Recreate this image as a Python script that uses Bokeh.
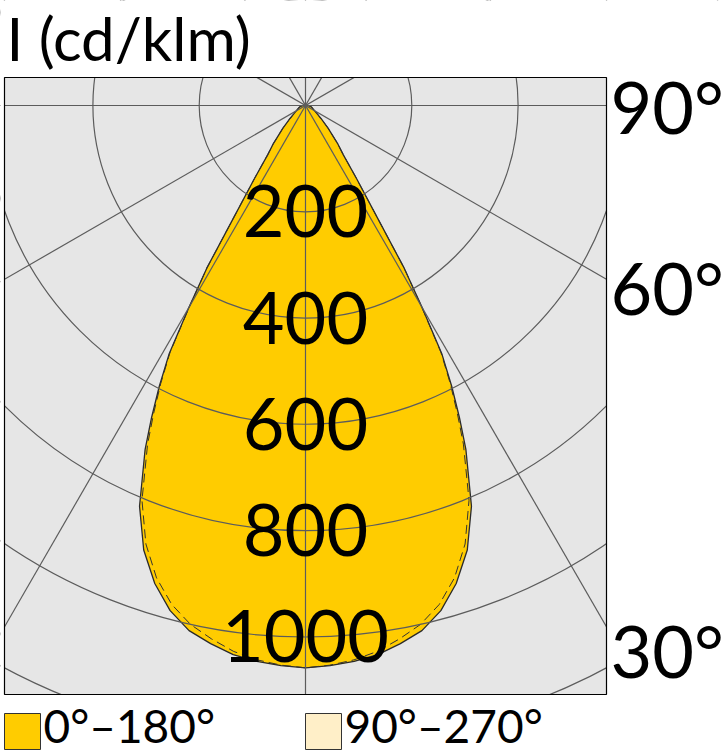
import numpy as np
from bokeh.plotting import figure
from bokeh.models import Range1d
from bokeh.core.properties import value
from bokeh.embed import file_html
from bokeh.resources import INLINE

# ---------------- data ----------------
theta_deg = [0, 2.5, 5, 7.5, 10, 12.5, 15, 17.5, 20, 22.5, 25, 26.25, 27.5, 28.75, 30,
             31.25, 32.5, 35, 37.5, 40, 45, 50, 55, 60, 70, 80, 90]
i_c0_180 = [1058, 1055, 1050, 1042, 1028, 1012, 984, 943, 890, 816, 714, 655, 596, 534, 438,
            358, 258, 166, 117, 95, 60, 38, 26, 20, 14, 10, 5]
i_c90_270 = [1058, 1054, 1047, 1036, 1019, 1000, 972, 932, 878, 804, 703, 646, 590, 530, 436,
             358, 258, 166, 117, 95, 60, 38, 26, 20, 14, 10, 5]
ring_labels = [200, 400, 600, 800, 1000]
ring_grid = [200, 400, 600, 800, 1000, 1200]
radial_angles = [0, 30, 60, 90, 120, 150]
angle_labels = [90, 60, 30]
title_text = "I (cd/klm)"
legend_labels = ["0°–180°", "90°–270°"]
legend_colors = ["#FFCC00", "#FFEFC8"]

# ---------------- layout ----------------
W, H = 724, 754
K = 0.5315            # px per cd/klm
CX, CY = 305, 105     # pole position in canvas px
FONT = value("Lato")
BASE_FIX = 0.41       # baseline correction (fraction of font size)


def X(px):
    return (px - CX) / K


def Y(py):
    return (CY - py) / K


def base(py, fs):
    return Y(py - BASE_FIX * fs)


p = figure(width=W, height=H, x_range=Range1d(X(0), X(W)), y_range=Range1d(Y(H), Y(0)),
           output_backend="svg", toolbar_location=None, min_border=0,
           x_axis_location=None, y_axis_location=None,
           background_fill_color="white", border_fill_color="white",
           outline_line_color=None)
p.grid.visible = False

box_l, box_r, box_t, box_b = 4, 606, 77, 694

p.quad(left=[X(box_l)], right=[X(box_r)], top=[Y(box_t)], bottom=[Y(box_b)],
       fill_color="#E6E6E6", line_color=None)


def curve(vals):
    th = np.radians(np.array(theta_deg))
    r = np.array(vals, dtype=float)
    th_full = np.concatenate([-th[::-1], th[1:]])
    r_full = np.concatenate([r[::-1], r[1:]])
    return r_full * np.sin(th_full), -r_full * np.cos(th_full)


x2, y2 = curve(i_c90_270)
x1, y1 = curve(i_c0_180)
p.patch(x2, y2, fill_color=legend_colors[1], line_color=None)
p.patch(x1, y1, fill_color=legend_colors[0], line_color="#2a2a2a", line_width=1.3)
p.line(x2, y2, line_color="#333333", line_width=1, line_dash="9 5")

GRID = "#5c5c5c"
p.circle(x=[0] * len(ring_grid), y=[0] * len(ring_grid), radius=ring_grid,
         fill_color=None, line_color=GRID, line_width=1.2)
L = 3000
a = np.radians(np.array(radial_angles))
p.segment(x0=-L * np.sin(a), y0=L * np.cos(a), x1=L * np.sin(a), y1=-L * np.cos(a),
          line_color=GRID, line_width=1.2)

# masks outside the box
p.quad(left=[X(0), X(0), X(box_r), X(0)], right=[X(W), X(W), X(W), X(box_l)],
       top=[Y(0), Y(box_b), Y(0), Y(0)], bottom=[Y(box_t), Y(H), Y(H), Y(H)],
       fill_color="white", line_color=None)
p.quad(left=[X(box_l)], right=[X(box_r)], top=[Y(box_t)], bottom=[Y(box_b)],
       fill_color=None, line_color="black", line_width=1.2)

# ring labels
FS = 72
ring_base = [CY + v * K + 29 for v in ring_labels]
p.text(x=[0] * len(ring_labels), y=[base(b, FS) for b in ring_base],
       text=[str(v) for v in ring_labels], text_font=FONT, text_font_size=f"{FS}px",
       text_align="center", text_baseline="alphabetic", text_color="black")

# angle labels on the right
anch = 314
lab_base = [CY + anch * np.cos(np.radians(t)) / np.sin(np.radians(t)) + 4 + 26
            for t in angle_labels]
p.text(x=[X(610)] * len(angle_labels), y=[base(b, FS) for b in lab_base],
       text=[f"{t}°" for t in angle_labels], text_font=FONT, text_font_size=f"{FS}px",
       text_align="left", text_baseline="alphabetic", text_color="black")

# title (size chosen so that the text box stays inside the page)
TFS = 60
p.text(x=[X(6)], y=[base(62, TFS)], text=[title_text], text_font=FONT,
       text_font_size=f"{TFS}px", text_align="left", text_baseline="alphabetic",
       text_color="black")

# legend
LFS = 46
sq_l = [4, 305]
sq_w = 36
p.quad(left=[X(v) for v in sq_l], right=[X(v + sq_w) for v in sq_l],
       top=[Y(713)] * 2, bottom=[Y(749)] * 2, fill_color=legend_colors,
       line_color="#333333", line_width=1)
p.text(x=[X(v + sq_w + 3) for v in sq_l], y=[base(744, LFS)] * 2, text=legend_labels,
       text_font=FONT, text_font_size=f"{LFS}px", text_align="left",
       text_baseline="alphabetic", text_color="black")

open("out.html", "w").write(file_html(p, INLINE))
